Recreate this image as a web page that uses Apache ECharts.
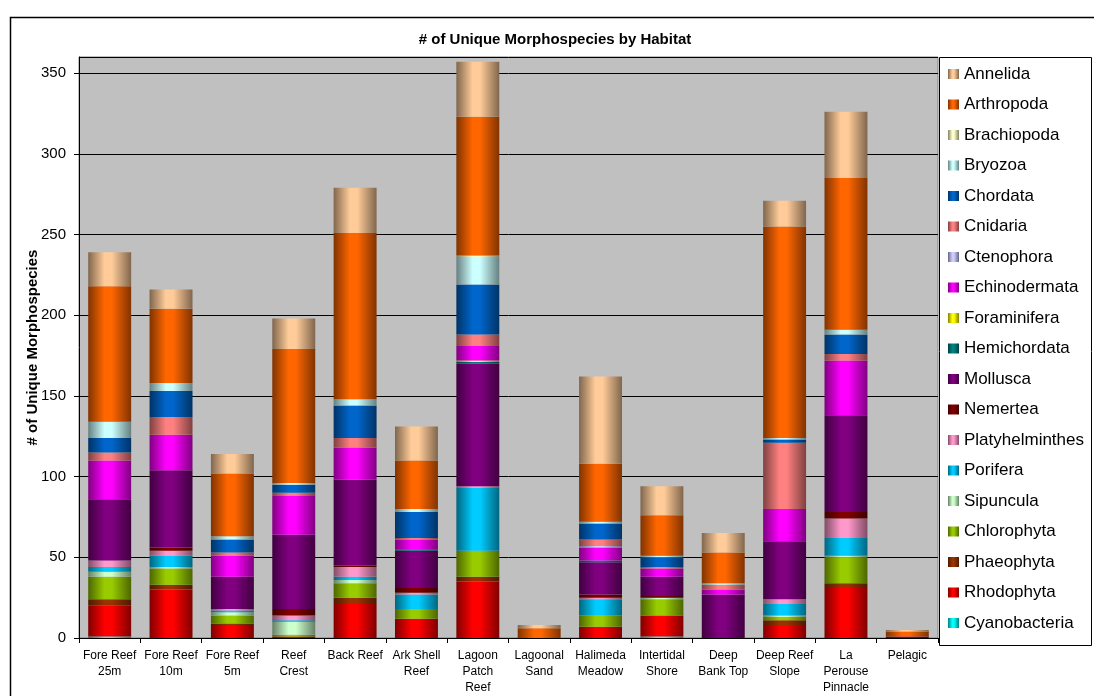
<!DOCTYPE html>
<html>
<head>
<meta charset="utf-8">
<script src="https://cdn.jsdelivr.net/npm/echarts@6/dist/echarts.min.js"></script>
<style>
html,body{margin:0;padding:0;background:#fff;}
#chart{width:1094px;height:696px;}
</style>
</head>
<body>
<div id="chart"></div>
<script>
const categories = ['Fore Reef\n25m','Fore Reef\n10m','Fore Reef\n5m','Reef\nCrest','Back Reef','Ark Shell\nReef','Lagoon\nPatch\nReef','Lagoonal\nSand','Halimeda\nMeadow','Intertidal\nShore','Deep\nBank Top','Deep Reef\nSlope','La\nPerouse\nPinnacle','Pelagic'];
const yTicks = [0,50,100,150,200,250,300,350];

// values per phylum, in category order
const cyanobacteria   = [1,0,0,0,0,0,0,0,0,1,0,0,0,0];
const rhodophyta      = [19,30,8,1,21,12,35,0,7,13,0,8,31,0];
const phaeophyta      = [4,3,1,0,4,0,3,0,0,0,0,3,3,0];
const chlorophyta     = [14,10,5,1,9,6,16,0,7,10,0,2,16,0];
const sipuncula       = [3,1,2,8,2,0,0,0,0,1,0,1,1,0];
const porifera        = [3,7,1,1,2,9,39,0,10,0,0,7,11,0];
const platyhelminthes = [4,3,1,3,6,1,1,0,1,0,0,3,12,0];
const nemertea        = [0,2,0,4,1,3,0,0,2,1,0,0,4,0];
const mollusca        = [38,48,20,46,53,23,76,0,20,12,27,36,60,1];
const hemichordata    = [0,0,0,0,0,1,1,0,1,0,0,0,0,0];
const foraminifera    = [0,0,0,0,0,0,1,0,0,0,0,0,0,0];
const echinodermata   = [24,22,13,24,20,6,9,0,8,5,3,20,34,0];
const ctenophora      = [0,0,0,0,0,0,0,0,1,0,0,0,0,0];
const cnidaria        = [5,11,2,2,6,1,7,0,4,1,3,41,4,0];
const chordata        = [9,16,8,5,20,16,31,0,10,6,0,2,12,0];
const bryozoa         = [10,5,2,1,4,2,17,0,1,1,1,1,3,0];
const brachiopoda     = [0,0,0,0,0,0,1,0,0,0,0,0,0,0];
const arthropoda      = [84,46,39,83,103,30,86,6,36,25,19,131,94,3];
const annelida        = [21,12,12,19,28,21,34,2,54,18,12,16,41,1];

// bottom-to-top stacking order
const seriesNames = ['Cyanobacteria','Rhodophyta','Phaeophyta','Chlorophyta','Sipuncula','Porifera','Platyhelminthes','Nemertea','Mollusca','Hemichordata','Foraminifera','Echinodermata','Ctenophora','Cnidaria','Chordata','Bryozoa','Brachiopoda','Arthropoda','Annelida'];
const seriesData = [cyanobacteria,rhodophyta,phaeophyta,chlorophyta,sipuncula,porifera,platyhelminthes,nemertea,mollusca,hemichordata,foraminifera,echinodermata,ctenophora,cnidaria,chordata,bryozoa,brachiopoda,arthropoda,annelida];
const seriesColors = ['#00FFFF','#FF0000','#993300','#99CC00','#CCFFCC','#00CCFF','#FF99CC','#800000','#800080','#008080','#FFFF00','#FF00FF','#CCCCFF','#FF8080','#0066CC','#CCFFFF','#FFFFCC','#FF6600','#FFCC99'];

function shade(hex, f){
  const n = parseInt(hex.slice(1),16);
  const r = Math.round(((n>>16)&255)*f), g = Math.round(((n>>8)&255)*f), b = Math.round((n&255)*f);
  return 'rgb('+r+','+g+','+b+')';
}
function grad(hex){
  return {type:'linear',x:0,y:0,x2:1,y2:0,colorStops:[
    {offset:0,color:shade(hex,0.5)},
    {offset:0.38,color:hex},
    {offset:0.55,color:hex},
    {offset:1,color:shade(hex,0.5)}
  ]};
}

const FONT = '"Liberation Sans", Arial, sans-serif';
const chart = echarts.init(document.getElementById('chart'), null, {renderer:'canvas'});
const series = seriesNames.map((name,i)=>({
  name:name, type:'bar', stack:'total', data:seriesData[i],
  barCategoryGap:'30%',
  itemStyle:{color:grad(seriesColors[i])},
  emphasis:{disabled:true}
}));

chart.setOption({
  animation:false,
  backgroundColor:'#ffffff',
  textStyle:{fontFamily:FONT},
  title:{
    text:'# of Unique Morphospecies by Habitat',
    left:550, top:27, textAlign:'center',
    textStyle:{fontFamily:FONT,fontSize:15,fontWeight:'bold',color:'#000'}
  },
  graphic:[
    {type:'rect',shape:{x:10.5,y:17.5,width:1100,height:700},style:{fill:'none',stroke:'#000',lineWidth:1.5},silent:true,z:0},
    {type:'rect',shape:{x:939.5,y:57.5,width:152,height:588},style:{fill:'#fff',stroke:'#000',lineWidth:1},silent:true,z:1}
  ],
  legend:{
    data:seriesNames.slice().reverse(),
    orient:'vertical',
    left:948, top:64,
    padding:0,
    itemWidth:11, itemHeight:10,
    itemGap:10.5,
    icon:'rect',
    selectedMode:false,
    z:5,
    textStyle:{fontFamily:FONT,fontSize:17,color:'#000',lineHeight:20,padding:[0,0,0,0]}
  },
  grid:{
    left:79, right:156, top:57, bottom:58,
    show:true, backgroundColor:'#C0C0C0', borderColor:'#808080', borderWidth:1
  },
  xAxis:{
    type:'category',
    data:categories,
    axisLine:{lineStyle:{color:'#000',width:1}},
    axisTick:{show:true,length:5,lineStyle:{color:'#000'}},
    axisLabel:{fontFamily:FONT,fontSize:12,color:'#000',lineHeight:16,margin:10,interval:0}
  },
  yAxis:{
    type:'value',
    min:0, max:360, interval:50,
    name:'# of Unique Morphospecies',
    nameLocation:'middle',
    nameGap:39,
    nameMoveOverlap:false,
    nameTextStyle:{fontFamily:FONT,fontSize:15,fontWeight:'bold',color:'#000'},
    axisLine:{show:true,lineStyle:{color:'#000',width:1}},
    axisTick:{show:true,length:5,lineStyle:{color:'#000'}},
    axisLabel:{fontFamily:FONT,fontSize:15,color:'#000',margin:13,showMaxLabel:false,
      formatter:function(v){return yTicks.indexOf(v)>=0?String(v):'';}},
    splitLine:{show:true,lineStyle:{color:'#000',width:1}}
  },
  series:series
});
</script>
</body>
</html>
